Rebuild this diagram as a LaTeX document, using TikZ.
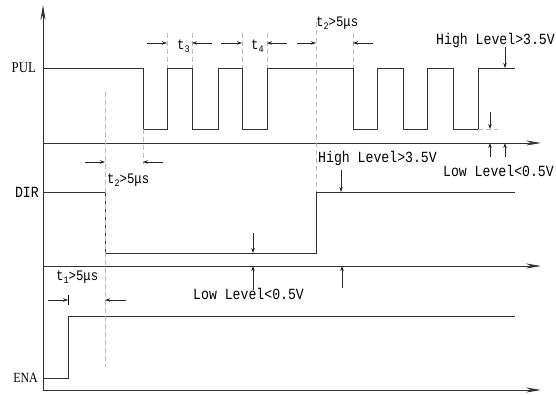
\documentclass[tikz,border=0pt]{standalone}
\usepackage{fontspec}
\setmainfont{Liberation Serif}
\newfontfamily\monofont[FakeStretch=0.85]{Liberation Mono}
\newfontfamily\narrowserif[FakeStretch=0.85]{Liberation Serif}
\usetikzlibrary{arrows.meta}

\newcommand{\subt}[1]{t\raisebox{-3pt}{\fontsize{10}{10}\selectfont #1}}

\begin{document}
\begin{tikzpicture}[x=1pt, y=-1pt,
    wave/.style={line width=0.9pt, black!80},
    axis/.style={line width=0.9pt, black!80, -{Stealth[length=15pt,width=5pt]}},
    guide/.style={line width=0.8pt, gray!55, dash pattern=on 5pt off 3pt},
    dim/.style={line width=0.7pt, black!85, -{Stealth[length=5pt,width=3.5pt]}},
    sig/.style={inner sep=0pt, anchor=east, font=\narrowserif\fontsize{15}{15}\selectfont},
    tlabel/.style={inner sep=0pt, anchor=west, font=\monofont\fontsize{14.5}{15}\selectfont},
    level/.style={inner sep=0pt, anchor=west, font=\monofont\fontsize{15.5}{16}\selectfont}]

  \useasboundingbox (0,0) rectangle (556,395);

  % axes
  \coordinate (origin) at (43,390);
  \coordinate (top) at (43,5);
  \coordinate (pulbase) at (43,143);
  \coordinate (dirbase) at (43,266);
  \draw[axis] (origin) -- (top);
  \draw[axis] (pulbase) -- (541,143);
  \draw[axis] (dirbase) -- (541,266);
  \draw[axis] (origin) -- (541,390);

  % signal names
  \node[sig] (pul) at (36,68) {PUL};
  \node[sig, font=\monofont\fontsize{15.5}{16}\selectfont] (dir) at (39,192) {DIR};
  \node[sig, font=\narrowserif\fontsize{14}{14}\selectfont] (ena) at (38,378) {ENA};

  % waveforms
  \draw[wave] (43,68) -- (143,68) -- (143,129) -- (167,129) -- (167,68)
    -- (192,68) -- (192,129) -- (218,129) -- (218,68) -- (242,68) -- (242,129)
    -- (267,129) -- (267,68) -- (353,68) -- (353,129) -- (377,129) -- (377,68)
    -- (403,68) -- (403,129) -- (427,129) -- (427,68) -- (453,68) -- (453,129)
    -- (478,129) -- (478,68) -- (515,68);
  \draw[wave] (43,192) -- (105,192) -- (105,253) -- (316,253) -- (316,192) -- (515,192);
  \draw[wave] (43,378) -- (68,378) -- (68,316) -- (515,316);

  % dashed guides
  \draw[guide] (105,92) -- (105,367);
  \draw[guide] (143,129) -- (143,164);
  \draw[guide] (167,33) -- (167,68);
  \draw[guide] (192,33) -- (192,68);
  \draw[guide] (242,33) -- (242,68);
  \draw[guide] (267,33) -- (267,68);
  \draw[guide] (316,22) -- (316,192);
  \draw[guide] (353,33) -- (353,68);
  \draw[guide] (478,129) -- (498,129);

  % timing marks
  \draw[dim] (147,43) -- (167,43);
  \draw[dim] (212,43) -- (192,43);
  \node[tlabel] (t3) at (177,46) {\subt{3}};
  \draw[dim] (221,43) -- (242,43);
  \draw[dim] (287,43) -- (267,43);
  \node[tlabel] (t4) at (251,46) {\subt{4}};
  \draw[dim] (297,43) -- (316,43);
  \draw[dim] (373,43) -- (353,43);
  \node[tlabel] (t2a) at (316,23) {\subt{2}>5μs};
  \draw[dim] (85,162) -- (105,162);
  \draw[dim] (163,162) -- (143,162);
  \node[tlabel] (t2b) at (107,180) {\subt{2}>5μs};
  \draw[dim] (48,300) -- (68,300);
  \draw[line width=0.7pt] (68,295) -- (68,305);
  \draw[dim] (126,300) -- (105,300);
  \node[tlabel] (t1) at (56,277) {\subt{1}>5μs};

  % level marks
  \node[level, anchor=east] (pulhigh) at (555,40) {High Level>3.5V};
  \draw[dim] (505,47) -- (505,68);
  \draw[dim] (490,112) -- (490,129);
  \draw[dim] (490,157) -- (490,143);
  \draw[dim] (505,157) -- (505,143);
  \node[level, anchor=east] (pullow) at (554,171) {Low Level<0.5V};
  \node[level] (dirhigh) at (318,158) {High Level>3.5V};
  \draw[dim] (341,170) -- (341,192);
  \draw[dim] (253,233) -- (253,253);
  \draw[dim] (253,290) -- (253,266);
  \draw[dim] (342,288) -- (342,266);
  \node[level] (dirlow) at (193,294) {Low Level<0.5V};
\end{tikzpicture}
\end{document}
